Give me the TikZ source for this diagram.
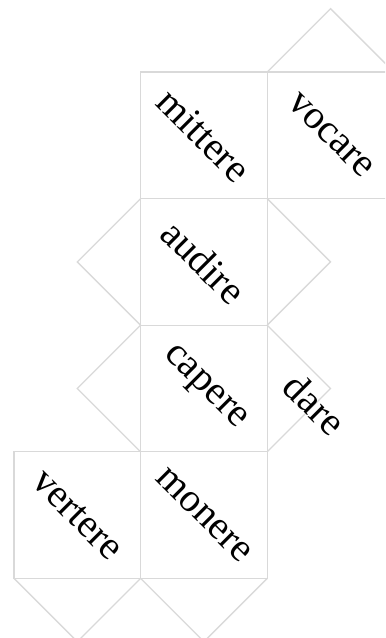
\documentclass[tikz,border=0pt]{standalone}
\usepackage{fontspec}
\setmainfont{Liberation Serif}
\usepackage{tikz}

\begin{document}
\begin{tikzpicture}[x=2cm, y=2cm,
  face/.style={draw=gray!30, line width=0.6pt},
  tab/.style={draw=gray!30, line width=0.6pt},
  word/.style={rotate=-45, font=\fontsize{18}{21}\selectfont}]
  \clip (-0.1106,0.5687) rectangle (2.9305,-4.4708);
  % faces of the net, with their words
  \foreach \c/\r/\w in {1/0/mittere, 2/0/vocare, 1/1/audire, 1/2/capere,
                        0/3/vertere, 1/3/monere} {
    \draw[face] (\c,-\r) rectangle ++(1,-1);
    \node[word] (\w) at (\c+0.5,-\r-0.5) {\w};
  }
  % glue tabs
  \draw[tab] (2,0) -- (2.5,0.5) -- (3,0);
  \draw[tab] (1,-1) -- (0.5,-1.5) -- (1,-2);
  \draw[tab] (2,-1) -- (2.5,-1.5) -- (2,-2);
  \draw[tab] (1,-2) -- (0.5,-2.5) -- (1,-3);
  \draw[tab] (2,-2) -- (2.5,-2.5) -- (2,-3);
  \draw[tab] (0,-4) -- (0.5,-4.5) -- (1,-4);
  \draw[tab] (1,-4) -- (1.5,-4.5) -- (2,-4);
  \node[word, anchor=north] (dare) at (2.5,-2.5) {dare};
\end{tikzpicture}
\end{document}
